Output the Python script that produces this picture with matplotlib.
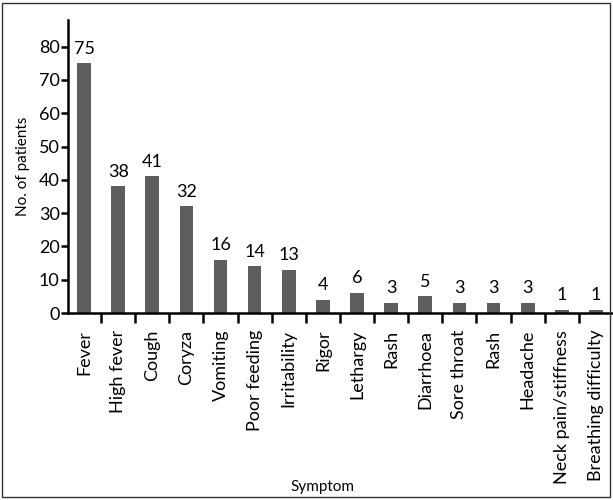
import numpy as np
from matplotlib import pyplot as plt
from matplotlib.patches import Rectangle
from matplotlib.ticker import FixedLocator

symptoms = ["Fever", "High fever", "Cough", "Coryza", "Vomiting", "Poor feeding",
            "Irritability", "Rigor", "Lethargy", "Rash", "Diarrhoea", "Sore throat",
            "Rash", "Headache", "Neck pain/stiffness", "Breathing difficulty"]
patients = [75, 38, 41, 32, 16, 14, 13, 4, 6, 3, 5, 3, 3, 3, 1, 1]

plt.rcParams['font.family'] = ['Lato', 'DejaVu Sans']

fig = plt.figure(figsize=(6.13, 5), dpi=100)
ax = fig.add_axes([68 / 613, 1 - 313 / 500, 545 / 613, 293 / 500])

x = np.arange(len(symptoms))
ax.bar(x, patients, 0.4, color='#5e5e5e')
for xi, v in zip(x, patients):
    ax.text(xi, v + 2, str(v), ha='center', va='bottom', fontsize=13)

ax.set_xlim(-0.47, 15.5)
ax.set_ylim(0, 88)
ax.set_yticks(range(0, 81, 10))
ax.set_xticks(x)
ax.set_xticklabels(symptoms, rotation=90, fontsize=13)
ax.xaxis.set_minor_locator(FixedLocator(x[:-1] + 0.5))
ax.tick_params(axis='x', which='major', length=0, pad=12)
ax.tick_params(axis='x', which='minor', length=7, width=1.8, direction='out')
ax.tick_params(axis='y', length=5, width=1.8, labelsize=13, pad=1)

for s in ['top', 'right']:
    ax.spines[s].set_visible(False)
for s in ['left', 'bottom']:
    ax.spines[s].set_linewidth(1.8)

ax.set_ylabel('No. of patients', fontsize=11, labelpad=6)
ax.set_xlabel('Symptom', fontsize=11)
ax.xaxis.set_label_coords(0.466, -0.57)

fig.patches.append(Rectangle((2 / 613, 3 / 500), 608 / 613, 494 / 500,
                             transform=fig.transFigure, fill=False,
                             edgecolor='#333333', linewidth=1))

plt.savefig('out.png')
